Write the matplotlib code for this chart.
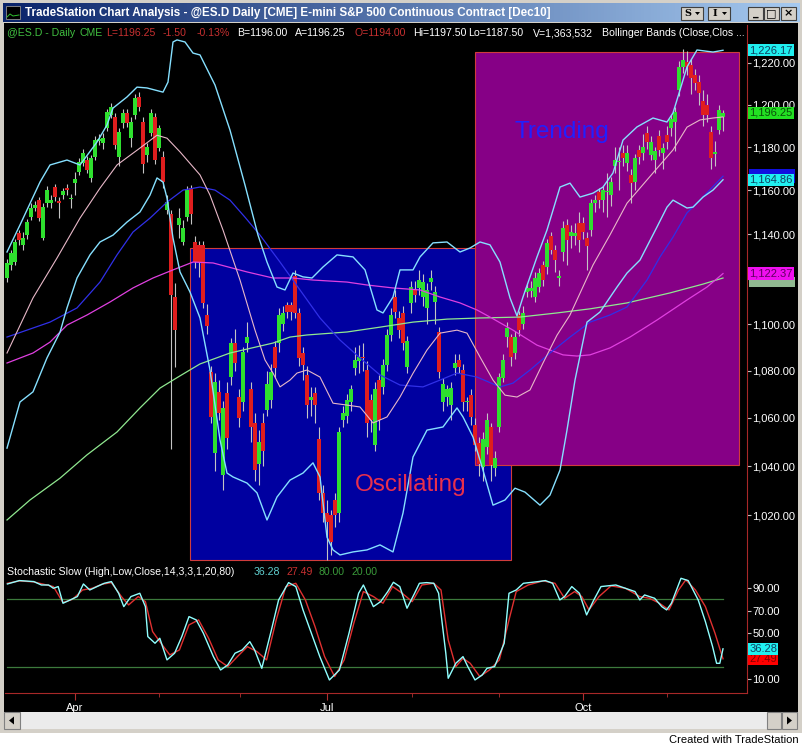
import numpy as np
import matplotlib.pyplot as plt
from matplotlib.patches import Rectangle, Polygon
from matplotlib.colors import LinearSegmentedColormap
from matplotlib.ticker import FixedLocator, FuncFormatter, NullLocator

plt.rcParams['font.family'] = ['Liberation Sans', 'DejaVu Sans']

# daily bars of @ES.D, Mar 8 - Nov 19 2010
opens = [1120.5, 1126, 1127.5, 1140.5, 1135, 1139.5, 1148, 1152, 1155.5, 1138.5,
         1154, 1154, 1161.5, 1155, 1158, 1161, 1156, 1163.5, 1168.5, 1172.5,
         1174, 1165.5, 1175.5, 1183, 1182, 1189, 1195, 1194, 1175.5, 1191.5,
         1196, 1184.5, 1195, 1203.5, 1192, 1176.5, 1186.5, 1194, 1179.5, 1175.5,
         1151, 1149, 1112, 1144, 1136.5, 1148, 1161, 1136.5, 1135, 1135,
         1104, 1079.5, 1045.5, 1071, 1036.5, 1070.5, 1077.5, 1092, 1069, 1066.5,
         1092, 1072, 1058, 1041, 1058, 1063.5, 1067.5, 1090, 1092, 1100,
         1108.5, 1108.5, 1121.5, 1105, 1087.5, 1078, 1067.5, 1070.5, 1051, 1029,
         1021, 1020, 1026, 1021, 1059, 1061, 1066.5, 1081, 1084, 1086,
         1080.5, 1067.5, 1048.5, 1076, 1073, 1082.5, 1095.5, 1112, 1103, 1105,
         1081.5, 1109.5, 1115, 1116, 1112, 1107, 1118.5, 1110, 1096.5, 1066.5,
         1069, 1065.5, 1081, 1084.5, 1080.5, 1066.5, 1069.5, 1057, 1049.5, 1039.5,
         1048, 1056, 1039, 1056, 1077, 1094.5, 1094.5, 1087.5, 1104, 1100,
         1114, 1114.5, 1112, 1116.5, 1126, 1125.5, 1139, 1133, 1120.5, 1132,
         1144, 1139, 1139, 1145, 1145, 1138.5, 1142, 1154, 1159, 1155.5,
         1159, 1158, 1171, 1173, 1177.5, 1172.5, 1167, 1164, 1178.5, 1177.5,
         1186.5, 1176.5, 1174, 1185, 1177.5, 1185.5, 1189, 1192, 1207, 1218,
         1220.5, 1219, 1214, 1211, 1202, 1200, 1187, 1177, 1188, 1194]
highs = [1129, 1133, 1138, 1142, 1141, 1147, 1154, 1155, 1157, 1154,
         1162, 1158, 1163, 1157, 1161, 1163, 1158.5, 1168.5, 1175, 1179,
         1176, 1176.5, 1185, 1186, 1186.5, 1198, 1201, 1196, 1189, 1198,
         1198, 1194, 1205, 1206, 1194, 1182, 1198, 1196, 1190.5, 1178,
         1158, 1151, 1118, 1152, 1146.5, 1162, 1162.5, 1139, 1137, 1137,
         1109, 1082, 1079, 1076, 1067, 1075, 1094, 1098, 1072, 1090,
         1101, 1075, 1062, 1055, 1062, 1080, 1083, 1093, 1107, 1108,
         1110, 1110, 1124, 1107, 1090, 1082, 1073, 1073, 1056, 1032,
         1026, 1022, 1029, 1056, 1065, 1070, 1074, 1090, 1091, 1092,
         1084, 1070, 1075, 1078, 1085, 1098, 1107, 1115, 1106, 1108,
         1095, 1119, 1119, 1124, 1122, 1118, 1124, 1117, 1099, 1077,
         1074, 1075, 1087, 1087, 1083, 1069, 1072, 1060, 1052, 1054,
         1062, 1058, 1046, 1079, 1087, 1101, 1096, 1097, 1106, 1108,
         1118, 1119, 1123, 1125, 1128, 1138, 1141, 1135, 1124, 1146,
         1147, 1144, 1145, 1150, 1148, 1141, 1156, 1158, 1161, 1162,
         1168, 1166, 1180, 1180, 1181, 1181, 1170, 1177, 1181, 1186,
         1190, 1185, 1180, 1188, 1182, 1190, 1195, 1199, 1221, 1227,
         1226, 1222, 1217, 1214, 1207, 1205, 1190, 1183, 1200, 1197.5]
lows = [1118.5, 1124, 1126, 1135, 1133, 1138, 1146.5, 1150.5, 1146, 1137.5,
        1152.5, 1152, 1155, 1147.5, 1156, 1158, 1152, 1158, 1167, 1171,
        1168, 1164, 1174, 1181, 1179, 1187.5, 1193.5, 1179, 1171, 1189,
        1189.5, 1180, 1193, 1197, 1168, 1173, 1185, 1172, 1178, 1161,
        1149, 1047, 1081.5, 1138.5, 1135, 1146, 1144.5, 1125, 1121, 1107,
        1096, 1058, 1038, 1059, 1030, 1047, 1074, 1080, 1056, 1063,
        1088, 1050, 1034, 1032, 1040, 1061, 1064, 1077, 1088, 1097,
        1103, 1102, 1103, 1082, 1076, 1060, 1061, 1058, 1026, 1017,
        1002, 1004, 1015, 1017, 1056, 1058, 1063, 1078, 1079, 1080,
        1052, 1054, 1046, 1055, 1070, 1080, 1093, 1103, 1094, 1089,
        1079, 1105, 1110, 1113, 1108, 1100, 1115, 1100, 1077, 1063,
        1065, 1059, 1078, 1079, 1063, 1063, 1057, 1046, 1036, 1034,
        1045, 1034, 1036, 1054, 1075, 1090, 1082, 1085, 1095, 1098,
        1112, 1112, 1110, 1114, 1117, 1122, 1131, 1123, 1117, 1128,
        1126, 1134, 1135, 1132, 1138, 1124, 1139, 1150, 1152, 1150,
        1148, 1153, 1168, 1160, 1171, 1169, 1154, 1160, 1172, 1174,
        1179, 1174, 1168, 1176, 1170, 1179, 1185, 1178, 1204, 1215,
        1214, 1205, 1207, 1200, 1190, 1192, 1170, 1171, 1186, 1187.5]
closes = [1127, 1131.5, 1136.5, 1137.5, 1138.5, 1145.5, 1152, 1153.5, 1147.5, 1152.5,
          1160, 1155.5, 1157, 1154, 1159.5, 1160, 1156.5, 1165, 1173, 1177.5,
          1169.5, 1175, 1183.5, 1184, 1184.5, 1196.5, 1199, 1181, 1187, 1196,
          1191.5, 1192, 1203, 1199, 1172, 1180, 1196, 1174, 1189, 1164,
          1154.5, 1113, 1097.5, 1147.5, 1143, 1160, 1149, 1127.5, 1127.5, 1109.5,
          1099.5, 1060.5, 1075, 1062, 1064, 1051.5, 1092, 1083.5, 1060, 1088,
          1094.5, 1056, 1038.5, 1050, 1046, 1074.5, 1079.5, 1081, 1104, 1105,
          1105.5, 1105.5, 1105, 1085.5, 1082.5, 1065.5, 1069, 1065.5, 1029, 1021,
          1017, 1009, 1020, 1054, 1062, 1067.5, 1072, 1084.5, 1086, 1085.5,
          1058, 1059, 1072, 1059, 1082.5, 1095.5, 1104, 1105.5, 1097.5, 1092,
          1093, 1116.5, 1113, 1119.5, 1118.5, 1115, 1120.5, 1114, 1079.5, 1074.5,
          1072, 1072.5, 1083.5, 1081.5, 1066.5, 1066.5, 1060.5, 1048.5, 1041, 1051,
          1059, 1040.5, 1043.5, 1077.5, 1084.5, 1098.5, 1086, 1094.5, 1097.5, 1105,
          1116, 1116, 1120.5, 1122.5, 1119.5, 1136, 1133, 1128.5, 1120.5, 1143,
          1137.5, 1141, 1140.5, 1137.5, 1141, 1134.5, 1154, 1155.5, 1155.5, 1160,
          1159.5, 1164, 1174, 1173.5, 1175, 1177.5, 1163.5, 1175, 1175.5, 1180,
          1182.5, 1182.5, 1178, 1178.5, 1179.5, 1182.5, 1193, 1196.5, 1218, 1221.5,
          1218, 1213, 1210.5, 1205.5, 1195, 1195, 1175, 1177.5, 1197.5, 1196.25]

# indicator lines (bar number, value)
bb_up_x = [0, 3.25, 8.25, 10.75, 15, 18.25, 22.5, 25, 26.5, 30, 32.5, 35, 39, 40.25, 41.5, 42.5, 44.5,
           46.5, 48.25, 52, 55.75, 59.5, 62.75, 65, 67.5, 69.5, 71.5, 74, 76.25, 79, 82.5, 86.5, 89.5,
           92.5, 94, 96.5, 98.25, 101.5, 103.25, 106.5, 110, 113.25, 115.75, 118.25, 120.75, 123.25,
           125.75, 127.5, 129, 132.5, 135, 138.25, 140.75, 143.25, 146.5, 149, 151.5, 154, 157.5,
           161.5, 165, 166.5, 168.25, 170, 172.5, 176.5, 179]
bb_up = [1132.0, 1144.2, 1163.8, 1171.7, 1174.0, 1171.7, 1182.4, 1190.4, 1198.4, 1203.7, 1208.4, 1208.0,
         1206.0, 1210.8, 1230.2, 1231.2, 1230.2, 1224.8, 1223.9, 1209.4, 1188.0, 1162.4, 1139.6, 1127.5,
         1116.4, 1115.1, 1122.6, 1120.9, 1120.4, 1125.3, 1130.7, 1129.8, 1124.0, 1106.3, 1105.0, 1112.0,
         1124.0, 1124.0, 1129.8, 1136.1, 1136.5, 1132.0, 1133.8, 1136.5, 1135.2, 1127.5, 1111.6, 1103.7,
         1112.0, 1129.8, 1141.9, 1161.5, 1163.3, 1156.9, 1158.7, 1161.5, 1168.0, 1183.3, 1189.5, 1193.7,
         1191.8, 1196.1, 1207.0, 1218.1, 1226.3, 1225.3, 1226.17]
bb_mid_x = [0, 6.5, 12.5, 18.25, 23.25, 27.5, 33.25, 37.5, 40, 43.25, 48.25, 50.75, 54, 58.25, 62, 64.5,
            66.5, 68.25, 70.75, 72.5, 75, 78.25, 81.5, 85, 88.25, 91.5, 95, 98.25, 101.5, 105, 108.25,
            112.5, 115, 118.25, 121.5, 124.5, 127.5, 130.75, 134, 137.5, 140.75, 146.5, 150.75, 155,
            161.5, 166.5, 170, 173.25, 176.5, 179]
bb_mid = [1087.6, 1111.6, 1129.3, 1147.3, 1161.0, 1171.7, 1179.6, 1185.6, 1184.2, 1177.8, 1167.1, 1157.8,
          1141.9, 1119.5, 1097.5, 1084.6, 1079.0, 1073.1, 1076.0, 1079.0, 1080.3, 1077.3, 1066.2, 1065.4,
          1064.6, 1057.9, 1060.4, 1068.8, 1078.9, 1088.9, 1096.2, 1097.5, 1096.2, 1085.9, 1076.0, 1069.6,
          1068.8, 1071.8, 1083.3, 1095.3, 1104.1, 1126.2, 1139.7, 1154.1, 1168.0, 1178.7, 1189.4, 1192.8,
          1193.7, 1194.2]
bb_lo_x = [0, 3.25, 6.5, 10, 13.25, 15, 17.5, 20.75, 23.25, 26.5, 30, 33.25, 35.75, 37.5, 39, 40, 41.5,
           43.25, 45.75, 48.25, 50.75, 53.25, 55, 56.5, 60, 62.5, 65, 67.5, 70.75, 74, 76.5, 78.25, 80,
           81.5, 83.25, 86.5, 90, 93.25, 96.5, 99, 101.5, 105, 109, 112.5, 114, 116.5, 119, 121.5, 124.5,
           127, 129.5, 133.25, 135.75, 138.25, 140, 142, 145, 148.25, 152.5, 155, 158.25, 162.5, 165,
           166.5, 170, 171.5, 174, 176.5, 179]
bb_lo = [1047.4, 1066.7, 1071.0, 1085.5, 1096.6, 1107.2, 1120.4, 1130.7, 1136.5, 1139.6, 1145.5, 1150.1,
         1157.8, 1165.7, 1163.8, 1156.4, 1138.3, 1123.1, 1114.2, 1102.8, 1080.3, 1050.8, 1037.1, 1035.5,
         1033.0, 1029.0, 1018.0, 1027.3, 1034.2, 1037.1, 1041.3, 1035.5, 1011.1, 1006.0, 1004.0, 1005.2,
         1006.0, 1008.0, 1005.2, 1020.8, 1043.7, 1054.9, 1056.2, 1064.2, 1060.4, 1052.0, 1038.3, 1024.0,
         1026.1, 1030.9, 1029.3, 1024.0, 1028.1, 1038.3, 1054.9, 1076.0, 1101.0, 1105.4, 1116.4, 1122.6,
         1128.4, 1143.3, 1152.3, 1155.5, 1151.9, 1152.3, 1156.9, 1160.1, 1164.86]
ma_blue_x = [0, 10.75, 17.5, 23.25, 27.5, 31.5, 35.75, 40, 44, 48.25, 52, 55.75, 59.5, 63.25, 68.25, 73.25,
             78.25, 83.25, 88.25, 93.25, 98.25, 104, 108.25, 112.5, 117.5, 123.25, 126.5, 130.75, 135.75,
             140.75, 145.75, 150.75, 155, 160, 163.25, 166.5, 170, 173.25, 179]
ma_blue = [1094.5, 1101.0, 1107.2, 1118.6, 1130.7, 1141.0, 1147.3, 1154.6, 1160.1, 1161.5, 1160.1, 1155.5,
           1147.7, 1139.6, 1127.5, 1115.1, 1102.8, 1093.2, 1085.5, 1078.2, 1073.9, 1073.1, 1076.0, 1079.0,
           1077.3, 1073.1, 1074.7, 1080.3, 1087.6, 1094.5, 1101.0, 1104.1, 1107.6, 1119.5, 1129.8, 1138.7,
           1149.7, 1155.5, 1166.5]
ma_mag_x = [0, 6.5, 10.75, 15, 20, 25.75, 31.5, 36.5, 41.5, 46.5, 51.5, 60, 66.5, 71.5, 76.5, 85, 90, 96.5,
            103.25, 108.25, 113.25, 117.5, 120.75, 126.5, 132.5, 135.75, 139, 142.5, 145.75, 150.75,
            155.75, 162.5, 170, 175, 179]
ma_mag = [1083.3, 1087.6, 1092.3, 1099.7, 1104.1, 1109.8, 1116.0, 1120.4, 1124.0, 1127.5, 1127.1, 1123.1,
          1120.4, 1120.4, 1119.5, 1118.6, 1117.3, 1116.0, 1115.1, 1112.0, 1109.4, 1106.3, 1103.2, 1097.5,
          1091.0, 1088.9, 1086.8, 1086.3, 1086.8, 1089.8, 1094.5, 1101.9, 1110.7, 1116.4, 1122.37]
ma_grn_x = [0, 5.75, 13.25, 20, 27.5, 33.25, 38.25, 43.25, 48.25, 55.75, 66.5, 70.75, 75, 85, 93.25, 101.5,
            110, 118.25, 128.25, 137.5, 145.75, 155, 165.75, 174, 179]
ma_grn = [1018.0, 1026.1, 1035.0, 1044.6, 1054.1, 1064.2, 1072.6, 1077.8, 1082.9, 1087.6, 1091.9, 1094.5,
          1095.4, 1096.7, 1098.8, 1101.0, 1102.3, 1102.8, 1103.2, 1105.0, 1106.8, 1109.4, 1113.8, 1117.7,
          1120.4]

# stochastic slow
k_x = [0.1, 3.1, 6.7, 8.6, 10.4, 11.6, 12.8, 14.0, 15.8, 17.6, 19.1, 20.7, 22.5, 24.3, 26.1, 27.9, 29.2,
       31.0, 33.2, 34.6, 35.2, 37.0, 38.2, 40.0, 41.9, 43.7, 45.5, 47.3, 49.1, 51.6, 53.4, 55.2, 57.0,
       58.8, 60.7, 61.9, 63.7, 66.1, 67.9, 70.4, 72.2, 74.0, 75.8, 78.2, 80.6, 83.1, 85.5, 87.9, 89.1,
       91.6, 93.4, 95.2, 96.6, 98.2, 100.0, 101.9, 103.1, 104.9, 106.7, 107.9, 109.7, 110.3, 112.2,
       114.0, 115.2, 117.0, 118.8, 120.0, 121.9, 124.3, 125.5, 127.3, 129.1, 132.8, 134.6, 136.4, 138.2,
       139.4, 141.2, 143.1, 144.9, 146.7, 148.5, 152.2, 154.6, 157.0, 158.2, 159.4, 161.9, 163.7, 164.9,
       166.1, 168.5, 170.3, 172.8, 174.6, 176.4, 177.4, 178.2, 179.0]
k_v = [93.5, 96.5, 95.6, 92.6, 92.6, 89.7, 91.2, 76.5, 79.4, 82.4, 93.5, 88.2, 91.2, 94.1, 95.6, 85.3, 73.5,
       82.4, 85.3, 73.5, 47.1, 41.2, 45.6, 26.5, 32.4, 47.1, 64.7, 61.8, 50.0, 29.4, 17.6, 22.1, 32.4,
       35.3, 42.6, 35.3, 19.1, 52.9, 79.4, 94.7, 91.2, 70.6, 52.9, 29.4, 8.8, 17.6, 50.0, 85.3, 92.6,
       73.5, 77.9, 86.8, 95.0, 91.2, 72.1, 85.3, 94.1, 94.7, 94.1, 85.3, 32.4, 10.3, 23.5, 29.4, 20.6,
       8.8, 13.2, 19.1, 20.6, 41.2, 85.3, 88.2, 94.1, 95.6, 96.5, 94.1, 79.4, 82.4, 91.2, 85.3, 66.2,
       79.4, 91.2, 92.6, 89.7, 86.8, 79.4, 83.8, 80.9, 73.5, 70.6, 76.5, 98.5, 96.5, 79.4, 60.3, 38.2,
       23.5, 23.5, 36.28]
d_x = [0.1, 3.1, 6.7, 9.2, 11.6, 14.0, 16.4, 18.9, 21.3, 23.7, 26.1, 28.6, 30.4, 32.8, 34.6, 36.4, 38.2,
       40.7, 43.1, 45.5, 47.9, 50.4, 52.8, 55.2, 57.6, 60.1, 62.5, 64.9, 67.3, 69.7, 72.2, 74.6, 77.0,
       79.4, 81.9, 84.3, 86.7, 89.1, 91.6, 94.0, 96.4, 98.8, 101.3, 103.7, 106.7, 108.5, 110.3, 112.2,
       114.0, 115.8, 118.2, 120.6, 123.1, 125.5, 127.3, 130.3, 134.0, 137.0, 139.4, 141.9, 143.7, 145.5,
       148.0, 151.0, 154.6, 158.2, 160.6, 163.1, 165.5, 167.9, 169.7, 172.1, 174.6, 177.0, 179.0]
d_v = [94.1, 96.2, 95.3, 93.2, 91.2, 77.1, 80.0, 88.2, 89.7, 93.2, 94.7, 82.4, 75.0, 82.4, 77.9, 51.5, 42.6,
       30.9, 35.3, 57.4, 61.8, 45.6, 26.5, 20.6, 29.4, 38.2, 33.8, 26.5, 61.8, 91.2, 94.1, 79.4, 55.9,
       29.4, 11.8, 26.5, 58.8, 86.8, 82.4, 76.5, 91.2, 85.3, 77.9, 92.6, 94.1, 88.2, 44.1, 20.6, 27.9,
       23.5, 11.8, 17.6, 26.5, 61.8, 86.8, 92.6, 96.2, 94.1, 80.9, 86.8, 82.4, 70.6, 82.4, 91.8, 89.7,
       82.4, 80.9, 76.5, 70.6, 88.2, 97.1, 88.2, 73.5, 50.0, 27.49]

month_pos = [17, 80, 144]
month_lbl = ['Apr', 'Jul', 'Oct']
minor_pos = [38, 58.25, 101.25, 123, 165]
price_ticks = [1020, 1040, 1060, 1080, 1100, 1120, 1140, 1160, 1180, 1200, 1220]
stoch_ticks = [10, 30, 50, 70, 90]
hidden_ticks = [1120, 30]   # covered by the last-value tags on the real chart

W, H = 803, 747
fig = plt.figure(figsize=(W / 100, H / 100), dpi=100)
fig.patch.set_facecolor('#d4d0c8')

# window chrome, pixel coordinates
bg = fig.add_axes([0, 0, 1, 1], zorder=-5)
bg.axis('off')
tb = LinearSegmentedColormap.from_list('tb', ['#0a246a', '#a6caf0'])
bg.imshow(np.linspace(0, 1, 256)[None, :], cmap=tb, extent=(3, 800, 22, 3), aspect='auto')
bg.add_patch(Rectangle((4, 23), 794, 689, fc='black', ec='none'))
bg.add_patch(Rectangle((0, 733), W, 14, fc='white', ec='none'))
bg.add_patch(Rectangle((4, 712), 794, 17, fc='#ebebeb', ec='none'))
for x0, w in [(4, 16), (767, 14), (782, 15)]:
    bg.add_patch(Rectangle((x0, 712), w, 17, fc='#d4d0c8', ec='#808080', lw=0.8))
bg.add_patch(Polygon([(9, 720.5), (14, 716.5), (14, 724.5)], fc='black'))
bg.add_patch(Polygon([(792, 720.5), (787, 716.5), (787, 724.5)], fc='black'))
bg.add_patch(Rectangle((6, 6), 14, 13, fc='black', ec='#909090', lw=0.6))
bg.plot([7, 10, 13, 19], [17, 14, 16, 15], color='#30c030', lw=0.7)
bg.text(25, 13, 'TradeStation Chart Analysis - @ES.D Daily [CME] E-mini S&P 500 Continuous Contract [Dec10]',
        color='white', fontsize=8.4, fontweight='bold', va='center', ha='left')
for x0, w, lbl in [(681, 22, 'S'), (708, 22, 'I')]:
    bg.add_patch(Rectangle((x0, 7), w, 13, fc='#d4d0c8', ec='#404040', lw=0.8))
    bg.text(x0 + 7, 13.5, lbl, fontsize=7, fontweight='bold', ha='center', va='center', family='DejaVu Serif')
    bg.add_patch(Polygon([(x0 + 14, 12), (x0 + 19, 12), (x0 + 16.5, 15)], fc='black'))
for x0, lbl in [(748, '_'), (764, '□'), (781, '×')]:
    bg.add_patch(Rectangle((x0, 7), 15, 13, fc='#d4d0c8', ec='#404040', lw=0.8))
    bg.text(x0 + 7.5, 13.5, lbl, fontsize=8, fontweight='bold', ha='center', va='center', family='DejaVu Sans')
bg.set_xlim(0, W)
bg.set_ylim(H, 0)

ax = fig.add_axes([5 / W, 1 - 563 / H, 742 / W, 538 / H], zorder=1)
ax2 = fig.add_axes([5 / W, 1 - 693 / H, 742 / W, 130 / H], zorder=1, sharex=ax)
for a in (ax, ax2):
    a.set_facecolor('black')
    for s in a.spines.values():
        s.set_visible(False)
    a.spines['right'].set_visible(True)
    a.spines['right'].set_color('#a82828')
ax2.spines['bottom'].set_visible(True)
ax2.spines['bottom'].set_color('#a82828')

# shaded regions
ax.add_patch(Rectangle((45.75, 1002.0), 126.0 - 45.75, 1133.8 - 1002.0, fc='#0000a0', ec='#d03c3c',
                       lw=0.8, zorder=1))
ax.add_patch(Rectangle((117.0, 1040.4), 183.0 - 117.0, 1225.3 - 1040.4, fc='#860086', ec='#d03c3c',
                       lw=0.8, zorder=1.5))

# candles
x = np.arange(len(closes))
o, c = np.array(opens), np.array(closes)
up = c >= o
ax.vlines(x, lows, highs, color='#c4c4c4', lw=0.8, zorder=3)
blo = np.minimum(o, c)
bh = np.maximum(np.abs(c - o), 0.6)
ax.bar(x[up], bh[up], bottom=blo[up], width=0.86, color='#2ee02e', zorder=4)
ax.bar(x[~up], bh[~up], bottom=blo[~up], width=0.86, color='#e01e1e', zorder=4)

# indicators
ax.plot(ma_grn_x, ma_grn, color='#90e890', lw=0.9, zorder=5)
ax.plot(ma_mag_x, ma_mag, color='#e040e0', lw=0.9, zorder=5)
ax.plot(ma_blue_x, ma_blue, color='#3030e8', lw=0.9, zorder=5)
ax.plot(bb_mid_x, bb_mid, color='#e8b8c8', lw=0.8, zorder=5)
ax.plot(bb_up_x, bb_up, color='#86e0ff', lw=1.0, zorder=5)
ax.plot(bb_lo_x, bb_lo, color='#86e0ff', lw=1.0, zorder=5)

ax.text(87, 1032.1, 'Oscillating', color='#e8304c', fontsize=17.5, va='center', ha='left', zorder=6)
ax.text(127, 1187.1, 'Trending', color='#2020ff', fontsize=17.5, va='center', ha='left', zorder=6)


def fmt_price(v, _):
    return '' if v in hidden_ticks else f'{v:,.2f}'


def fmt_stoch(v, _):
    return '' if v in hidden_ticks else f'{v:.2f}'


ax.set_yscale('log')
ax.set_ylim(1000.8, 1238.5)
ax.set_xlim(-0.5, 185)
ax.yaxis.tick_right()
ax.yaxis.set_major_locator(FixedLocator(price_ticks))
ax.yaxis.set_minor_locator(NullLocator())
ax.yaxis.set_major_formatter(FuncFormatter(fmt_price))
ax.tick_params(axis='y', which='both', length=3, width=0.8, color='#c0c0c0', labelcolor='white',
               labelsize=8, pad=1)
ax.tick_params(axis='x', which='both', bottom=False, labelbottom=False)

ax2.plot([0, len(closes) - 1], [80, 80], color='#3c7a3c', lw=0.9)
ax2.plot([0, len(closes) - 1], [20, 20], color='#3c7a3c', lw=0.9)
ax2.plot(d_x, d_v, color='#e03030', lw=1.0)
ax2.plot(k_x, k_v, color='#90ffff', lw=1.0)
ax2.set_ylim(-2.7, 112)
ax2.yaxis.tick_right()
ax2.set_yticks(stoch_ticks)
ax2.yaxis.set_major_formatter(FuncFormatter(fmt_stoch))
ax2.tick_params(axis='y', length=3, width=0.8, color='#c0c0c0', labelcolor='white', labelsize=8, pad=1)
ax2.set_xticks(month_pos)
ax2.set_xticklabels(month_lbl)
ax2.set_xticks(minor_pos, minor=True)
ax2.tick_params(axis='x', which='major', length=5, color='#b03030', labelcolor='white', labelsize=8, pad=2)
ax2.tick_params(axis='x', which='minor', length=3, color='#b03030')


def tag(a, val, txt, fc, tc, z):
    a.text(1.003, val, txt, transform=a.get_yaxis_transform(), ha='left', va='center', fontsize=8,
           color=tc, zorder=z, clip_on=False,
           bbox=dict(boxstyle='square,pad=0.1', fc=fc, ec='none'))


def strip(a, lo, hi, fc, z):
    # last-value tag that is almost fully covered by the tag drawn over it
    a.add_patch(Rectangle((1.003, lo), 0.062, hi - lo, transform=a.get_yaxis_transform(), fc=fc,
                          ec='none', zorder=z, clip_on=False))


tag(ax, 1226.17, '1,226.17', '#20f0f0', '#104060', 10)
tag(ax, 1196.25, '1,196.25', '#22e022', '#0a500a', 10)
strip(ax, 1163.5, 1170.0, '#1010e0', 9)
tag(ax, 1164.86, '1,164.86', '#20f0f0', '#104060', 11)
strip(ax, 1116.6, 1121.0, '#90b890', 9)
tag(ax, 1122.37, '1,122.37', '#f010f0', '#600060', 11)
tag(ax2, 27.49, '27.49', '#ff0000', '#800000', 10)
tag(ax2, 36.28, '36.28', '#20f0f0', '#104060', 11)

# header lines
fs = 7.6
for txt, xp, col in [('@ES.D - Daily', 7, '#40c040'), ('CME', 80, '#40c040'),
                     ('L=1196.25', 106, '#c83030'), ('-1.50', 163, '#c83030'), ('-0.13%', 197, '#c83030'),
                     ('B=1196.00', 237, 'white'), ('A=1196.25', 295, 'white'), ('O=1194.00', 355, '#c83030'),
                     ('Hi=1197.50', 413, 'white'), ('Lo=1187.50', 468, 'white'), ('V=1,363,532', 533, 'white'),
                     ('Bollinger Bands (Close,Clos ...', 602, 'white')]:
    fig.text(xp / W, 1 - 33 / H, txt, color=col, fontsize=fs, va='center', ha='left')
for txt, xp, col in [('Stochastic Slow (High,Low,Close,14,3,3,1,20,80)', 7, 'white'),
                     ('36.28', 254, '#60d0d0'), ('27.49', 287, '#c83030'),
                     ('80.00', 319, '#3a9a3a'), ('20.00', 352, '#3a9a3a')]:
    fig.text(xp / W, 1 - 572 / H, txt, color=col, fontsize=fs, va='center', ha='left')
fig.text(799 / W, 1 - 740 / H, 'Created with TradeStation', color='black', fontsize=8, va='center',
         ha='right', family=['Liberation Sans Narrow', 'Liberation Sans'])

fig.savefig('out.png', dpi=100, facecolor=fig.get_facecolor())
